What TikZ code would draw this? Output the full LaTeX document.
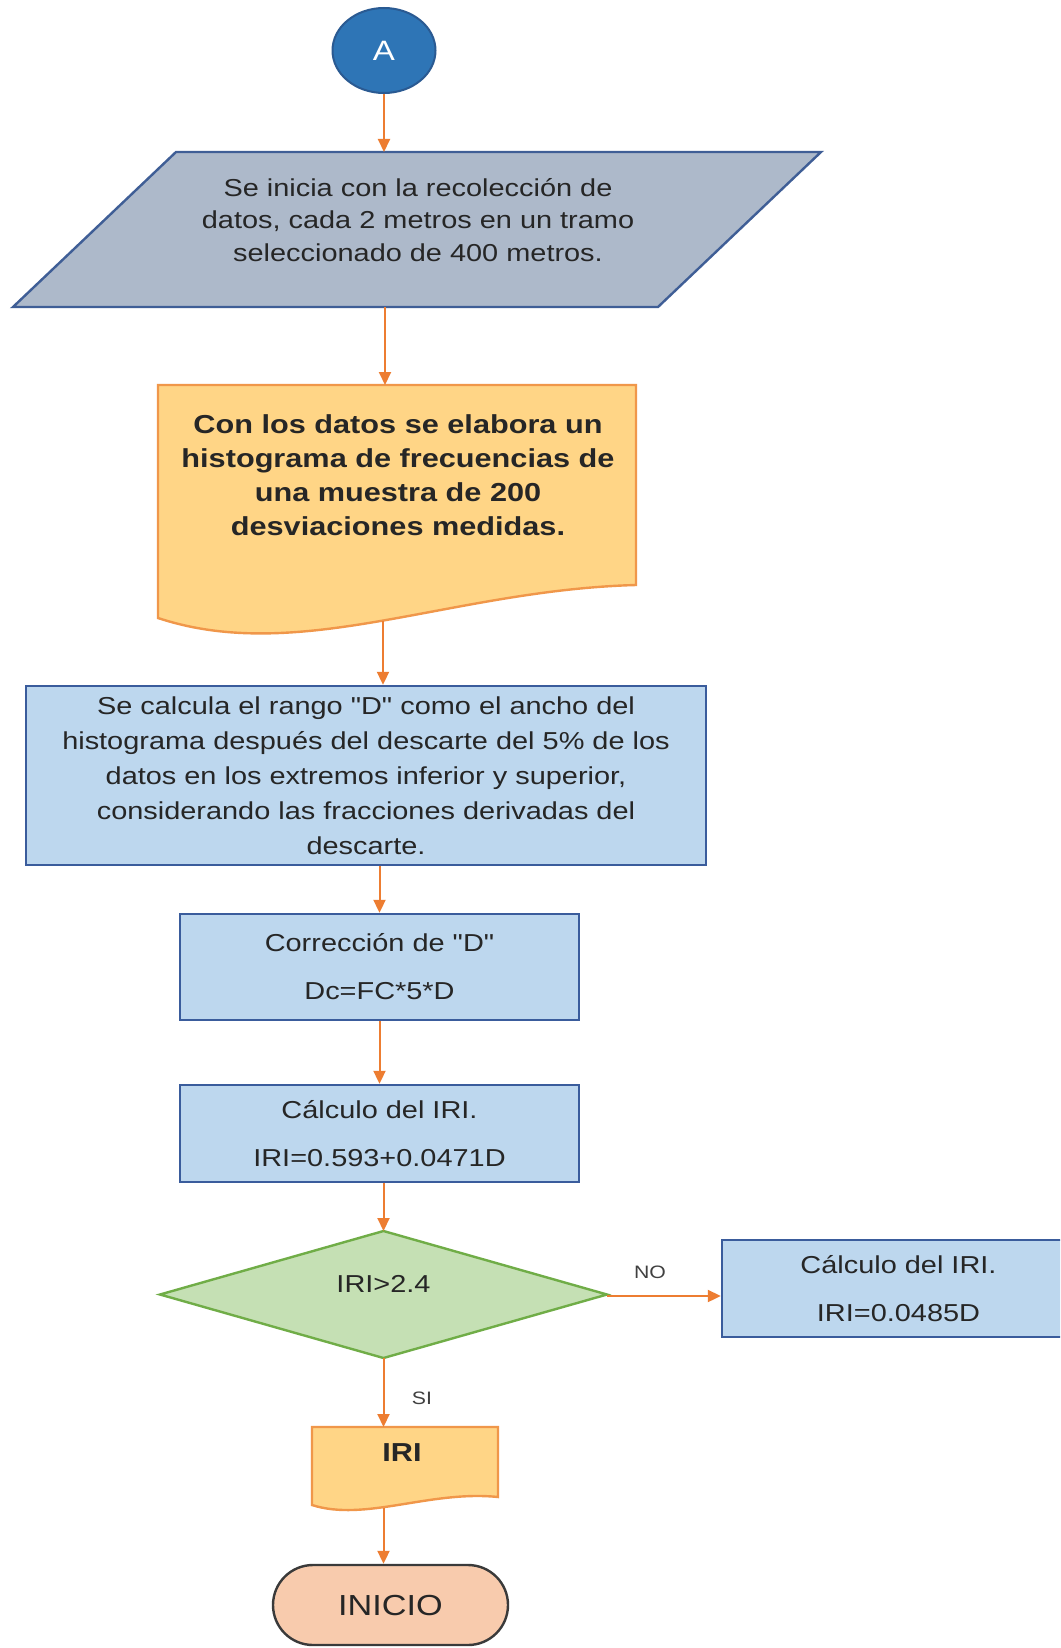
\documentclass[tikz,border=0pt]{standalone}
\usepackage{fontspec}
\setmainfont{Liberation Sans}[FakeStretch=1.18]
\newfontfamily\plainfont{Liberation Sans}[FakeStretch=1.18]
\usetikzlibrary{arrows.meta,shapes.geometric}
\definecolor{arrc}{HTML}{ED7D31}
\definecolor{textc}{HTML}{262626}
\definecolor{circfill}{HTML}{2E75B6}
\definecolor{circline}{HTML}{2A5A92}
\definecolor{parafill}{HTML}{ADB9CA}
\definecolor{paraline}{HTML}{3F5E96}
\definecolor{docfill}{HTML}{FFD586}
\definecolor{docline}{HTML}{F0974A}
\definecolor{boxfill}{HTML}{BDD7EE}
\definecolor{boxline}{HTML}{3A5C9C}
\definecolor{diafill}{HTML}{C5E0B4}
\definecolor{dialine}{HTML}{70AD47}
\definecolor{endfill}{HTML}{F8CBAD}
\definecolor{endline}{HTML}{3A3A3A}
\definecolor{labc}{HTML}{404040}
\newcommand{\sq}{{\plainfont\symbol{34}}}
\begin{document}
\begin{tikzpicture}[x=1pt,y=-1pt,
  conn/.style={draw=arrc, line width=2pt, -{Triangle[length=13pt,width=12pt]}},
  txt/.style={align=center, text=textc, inner sep=0pt},
  bluebox/.style={draw=boxline, fill=boxfill, line width=2.4pt, inner sep=0pt, align=center, text=textc},
  regtext/.style={font=\fontsize{24.5}{35}\selectfont},
  twoline/.style={font=\fontsize{24.5}{48}\selectfont},
  lab/.style={text=labc, inner sep=0pt, font=\fontsize{18}{20}\selectfont}]
\useasboundingbox (0,0) rectangle (1060,1648);
\clip (0,0) rectangle (1060,1648);
\fill[white] (0,0) rectangle (1060,1648);

% Start connector
\node[ellipse, fill=circfill, draw=circline, line width=2pt, minimum width=103pt,
  minimum height=85pt, inner sep=0pt, text=white, font=\fontsize{28}{30}\selectfont] (A) at (384,50.5) {A};

% Input parallelogram
\path[draw=paraline, fill=parafill, line width=2.4pt] (176,152) -- (821,152) -- (658,307) -- (13,307) -- cycle;
\node[txt, font=\fontsize{24.5}{32.5}\selectfont] (P) at (418,220)
  {Se inicia con la recolección de\\datos, cada 2 metros en un tramo\\seleccionado de 400 metros.};
\coordinate (Ptop) at (384,152);
\coordinate (Pbot) at (385,307);

% Document
\path[draw=docline, fill=docfill, line width=2.4pt] (158,385) -- (636,385) -- (636,585)
  .. controls (450,590) and (300,665) .. (158,618) -- cycle;
\node[txt, font=\bfseries\fontsize{26}{34}\selectfont] (H) at (398,475)
  {Con los datos se elabora un\\histograma de frecuencias de\\una muestra de 200\\desviaciones medidas.};
\coordinate (Htop) at (385,385);
\coordinate (Hbot) at (383,621);

% Process boxes
\node[bluebox, regtext, minimum width=680pt, minimum height=179pt] (R3) at (366,775.5)
  {Se calcula el rango \sq D\sq{} como el ancho del\\histograma después del descarte del 5\% de los\\datos en los extremos inferior y superior,\\considerando las fracciones derivadas del\\descarte.};
\node[bluebox, twoline, minimum width=399pt, minimum height=106pt] (R4) at (379.5,967)
  {Corrección de \sq D\sq\\Dc=FC*5*D};
\node[bluebox, twoline, minimum width=399pt, minimum height=97pt] (R5) at (379.5,1133.5)
  {Cálculo del IRI.\\IRI=0.593+0.0471D};

% Decision
\path[draw=dialine, fill=diafill, line width=2.4pt] (160,1294.5) -- (383.5,1231) -- (607,1294.5) -- (383.5,1358) -- cycle;
\node[txt, font=\fontsize{24.5}{30}\selectfont] (Dt) at (383.5,1284) {IRI>2.4};
\coordinate (Dtop) at (383.5,1231);
\coordinate (Dright) at (607,1296);
\coordinate (Dbot) at (383.5,1358);

% Right box
\node[bluebox, twoline, minimum width=353pt, minimum height=97pt] (RB) at (898.5,1288.5)
  {Cálculo del IRI.\\IRI=0.0485D};

% Output document IRI
\path[draw=docline, fill=docfill, line width=2.4pt] (312,1427) -- (498,1427) -- (498,1497)
  .. controls (430,1490) and (365,1522) .. (312,1505) -- cycle;
\node[txt, font=\bfseries\fontsize{26}{30}\selectfont] (I) at (402,1453) {IRI};
\coordinate (Itop) at (383.5,1427);
\coordinate (Ibot) at (383.5,1508);

% Terminal
\node[draw=endline, fill=endfill, line width=2.4pt, rounded corners=40pt, minimum width=235pt,
  minimum height=80pt, inner sep=0pt, text=textc, font=\fontsize{29}{32}\selectfont] (E) at (390.5,1605) {INICIO};

% Connectors
\draw[conn] (A.south) -- (Ptop);
\draw[conn] (Pbot) -- (Htop);
\draw[conn] (Hbot) -- (Hbot |- R3.north);
\draw[conn] (R4.north |- R3.south) -- (R4.north);
\draw[conn] (R4.south) -- (R5.north);
\draw[conn] (Dtop |- R5.south) -- (Dtop);
\draw[conn] (Dright) -- (Dright -| RB.west);
\draw[conn] (Dbot) -- (Itop);
\draw[conn] (Ibot) -- (Ibot |- E.north);

% Labels
\node[lab] (NO) at (650,1272) {NO};
\node[lab] (SI) at (422,1398) {SI};
\end{tikzpicture}
\end{document}
